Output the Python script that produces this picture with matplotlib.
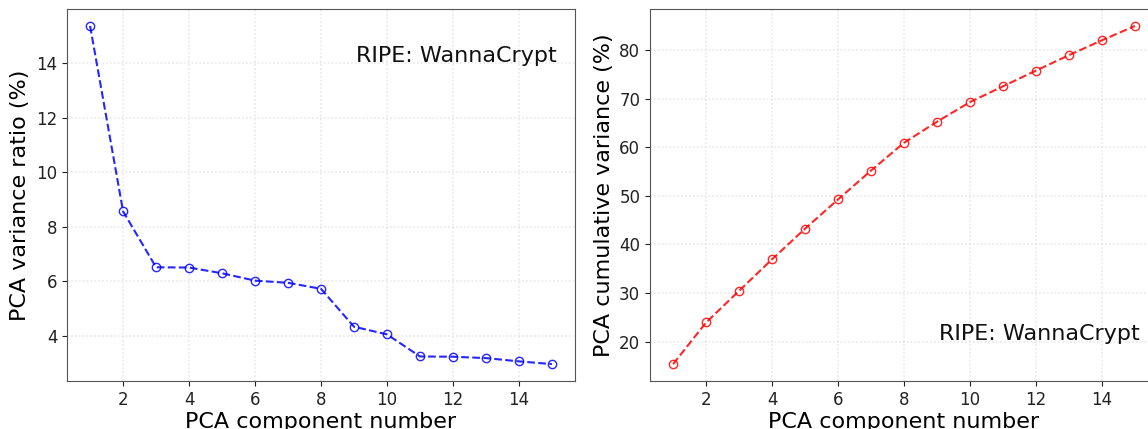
import numpy as np
import matplotlib
matplotlib.use("Agg")
import matplotlib.pyplot as plt

# PCA explained variance per component (%)
components = list(range(1, 16))
variance_ratio = [15.36, 8.56, 6.51, 6.50, 6.29, 6.02, 5.94, 5.72,
                  4.33, 4.05, 3.24, 3.23, 3.18, 3.06, 2.96]
cumulative = np.cumsum(variance_ratio)
dataset_label = "RIPE: WannaCrypt"

fig = plt.figure(figsize=(11.48, 4.29), dpi=100)
W, H = 1148, 429
ax1 = fig.add_axes([67 / W, 48 / H, 508 / W, 372 / H])
ax2 = fig.add_axes([650 / W, 48 / H, 508 / W, 372 / H])

for ax in (ax1, ax2):
    ax.grid(True, color="#e2e2e2", linestyle=(0, (1, 1)), linewidth=1.4, alpha=0.6)
    ax.set_axisbelow(True)
    ax.tick_params(labelsize=12, colors="#222222")
    for s in ax.spines.values():
        s.set_color("#555555")
    ax.set_xlabel("PCA component number", fontsize=16, labelpad=2)

ax1.plot(components, variance_ratio, "--", color="blue", marker="o",
         markerfacecolor="none", markersize=6, linewidth=1.5, alpha=0.85)
ax1.set_ylabel("PCA variance ratio (%)", fontsize=16)
ax1.set_xticks([2, 4, 6, 8, 10, 12, 14])
ax1.set_yticks([4, 6, 8, 10, 12, 14])
ax1.text(0.965, 0.874, dataset_label, transform=ax1.transAxes,
         ha="right", va="center", fontsize=16, color="#111111")

ax2.plot(components, cumulative, "--", color="red", marker="o",
         markerfacecolor="none", markersize=6, linewidth=1.5, alpha=0.85)
ax2.set_ylabel("PCA cumulative variance (%)", fontsize=16)
ax2.set_xticks([2, 4, 6, 8, 10, 12, 14])
ax2.set_yticks([20, 30, 40, 50, 60, 70, 80])
ax2.text(0.965, 0.126, dataset_label, transform=ax2.transAxes,
         ha="right", va="center", fontsize=16, color="#111111")

fig.savefig("out.png", dpi=100)
